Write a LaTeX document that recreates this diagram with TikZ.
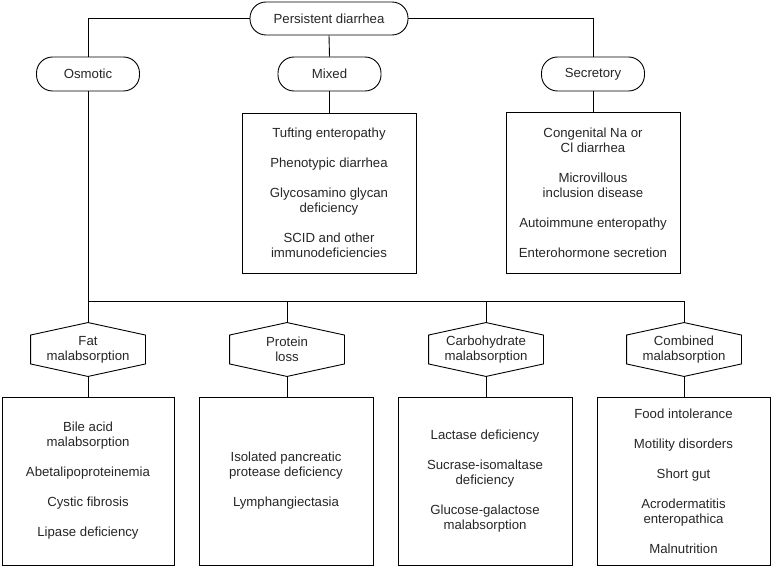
\documentclass[tikz,border=0pt]{standalone}
\usepackage{fontspec}
\setmainfont{Liberation Sans}
\begin{document}
\begin{tikzpicture}[x=1pt,y=-1pt,
  every node/.style={font=\fontsize{13.2}{15}\selectfont, text=black!85},
  oval/.style={draw, rectangle, rounded corners=16pt, minimum width=103pt, minimum height=34pt, inner sep=0pt},
  listbox/.style={draw, rectangle, align=center, inner sep=0pt, minimum width=174pt},
  hexnode/.style={align=center, inner sep=0pt, minimum width=114pt, minimum height=28pt},
  conn/.style={line width=0.9pt},
  every path/.style={line width=0.9pt}]
\useasboundingbox (0,0) rectangle (772,567);

% top level
\node[oval, minimum width=158pt, minimum height=33pt] (pd) at (329,18.5) {Persistent diarrhea};
\node[oval] (osm) at (88,74) {Osmotic};
\node[oval] (mix) at (329.5,74) {Mixed};
\node[oval] (sec) at (593,74) {Secretory};

\node[listbox, minimum height=160pt] (mixbox) at (329,193)
  {Tufting enteropathy\\[15pt]Phenotypic diarrhea\\[15pt]Glycosamino glycan\\deficiency\\[15pt]SCID and other\\immunodeficiencies};
\node[listbox, minimum height=161pt] (secbox) at (593,192.5)
  {Congenital Na or\\Cl diarrhea\\[15pt]Microvillous\\inclusion disease\\[15pt]Autoimmune enteropathy\\[15pt]Enterohormone secretion};

% hexagons
\node[hexnode] (fat) at (88,349.5) {Fat\\malabsorption};
\node[hexnode] (prot) at (287,349.5) {Protein\\loss};
\node[hexnode] (carb) at (486,349.5) {Carbohydrate\\malabsorption};
\node[hexnode] (comb) at (684,349.5) {Combined\\malabsorption};
\foreach \n in {fat,prot,carb,comb}{
  \coordinate (\n-t) at ([yshift=12.5pt]\n.north);
  \coordinate (\n-b) at ([yshift=-12.5pt]\n.south);
  \draw[conn] (\n.north west) -- (\n-t) -- (\n.north east) -- (\n.south east) -- (\n-b) -- (\n.south west) -- cycle;
}

% bottom boxes
\node[listbox, minimum width=172pt, minimum height=168pt] (fatbox) at (88,481)
  {Bile acid\\malabsorption\\[15pt]Abetalipoproteinemia\\[15pt]Cystic fibrosis\\[15pt]Lipase deficiency};
\node[listbox, minimum height=168pt] (protbox) at (286,481)
  {Isolated pancreatic\\protease deficiency\\[15pt]Lymphangiectasia};
\node[listbox, minimum height=168pt] (carbbox) at (485,481)
  {Lactase deficiency\\[15pt]Sucrase-isomaltase\\deficiency\\[15pt]Glucose-galactose\\malabsorption};
\node[listbox, minimum width=173pt, minimum height=168pt] (combbox) at (683.5,481)
  {Food intolerance\\[15pt]Motility disorders\\[15pt]Short gut\\[15pt]Acrodermatitis\\enteropathica\\[15pt]Malnutrition};

% connectors
\draw[conn] (pd.west) -| (osm.north);
\draw[conn] (pd.east) -| (sec.north);
\draw[conn] (pd.south) -- (mix.north);
\draw[conn] (mix.south) -- (mix.south |- mixbox.north);
\draw[conn] (sec.south) -- (sec.south |- secbox.north);
\draw[conn] (osm.south) -- (fat-t);
\coordinate (bus) at (0,301);
\draw[conn] (fat-t |- bus) -| (comb-t);
\draw[conn] (prot-t |- bus) -- (prot-t);
\draw[conn] (carb-t |- bus) -- (carb-t);
\foreach \n in {fat,prot,carb,comb}{
  \draw[conn] (\n-b) -- (\n-b |- \n box.north);
}
\end{tikzpicture}
\end{document}
